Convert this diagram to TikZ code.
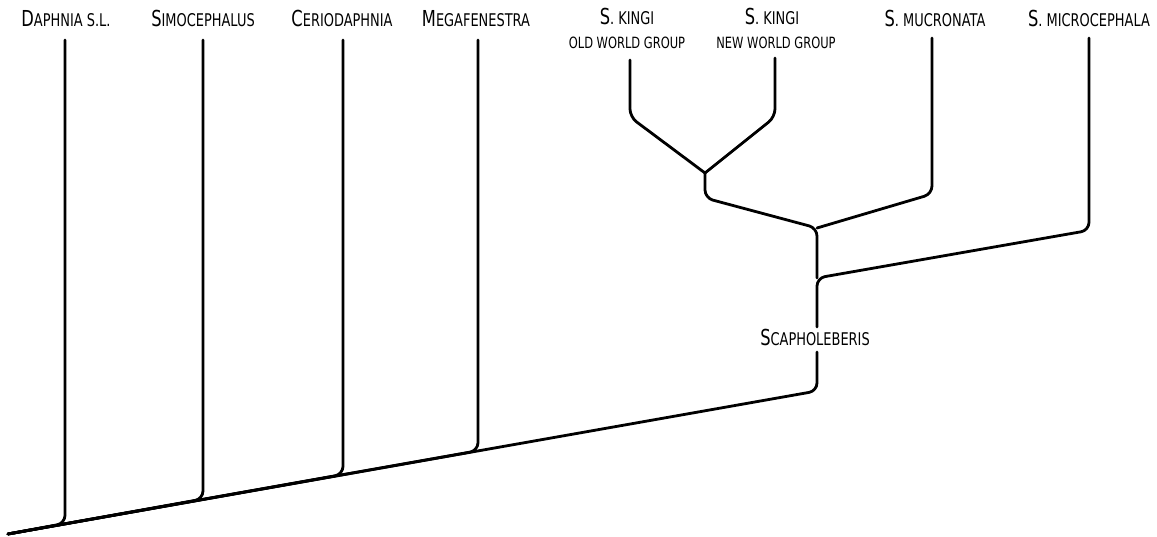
\documentclass[tikz,border=0pt]{standalone}
\usepackage{fontspec}
\setmainfont{DejaVu Sans}[FakeStretch=0.74]
\newcommand\Lc[1]{{\fontsize{22}{22}\selectfont #1}}
\begin{document}
\begin{tikzpicture}[x=1pt,y=-1pt,
  lab/.style={anchor=base,inner sep=0pt,font=\fontsize{17.5}{17.5}\selectfont},
  sublab/.style={anchor=base,inner sep=0pt,font=\fontsize{15.5}{15.5}\selectfont},
  br/.style={line width=2.8pt,rounded corners=8pt,line cap=round,line join=round}]
\useasboundingbox (0,0) rectangle (1157,537);
% labels
\node[lab] (lD) at (66,27) {\Lc{D}APHNIA S.L.};
\node[lab] (lS) at (203,27) {\Lc{S}IMOCEPHALUS};
\node[lab] (lC) at (342,27) {\Lc{C}ERIODAPHNIA};
\node[lab] (lM) at (476,27) {\Lc{M}EGAFENESTRA};
\node[lab] (lKo) at (627,25) {\Lc{S}. KINGI};
\node[sublab] (lKo2) at (627,49) {OLD WORLD GROUP};
\node[lab] (lKn) at (772,25) {\Lc{S}. KINGI};
\node[sublab] (lKn2) at (776,49) {NEW WORLD GROUP};
\node[lab] (lMu) at (935,27) {\Lc{S}. MUCRONATA};
\node[lab] (lMi) at (1089,27) {\Lc{S}. MICROCEPHALA};
\node[lab] (lSc) at (815,345) {\Lc{S}CAPHOLEBERIS};
% tops of branches
\coordinate (tD) at (65,40);
\coordinate (tS) at (203,40);
\coordinate (tC) at (343,40);
\coordinate (tM) at (478,40);
\coordinate (tKo) at (630,60);
\coordinate (tKn) at (775,58);
\coordinate (tMu) at (932,38);
\coordinate (tMi) at (1089,38);
% corners and junctions
\coordinate (root) at (8,534);
\coordinate (cD) at (65,523.4);
\coordinate (cS) at (203,499);
\coordinate (cC) at (343,474.4);
\coordinate (cM) at (478,450.7);
\coordinate (cSc) at (817,391);
\coordinate (scB) at (817,352);
\coordinate (scT) at (817,327);
\coordinate (jMi) at (817,278);
\coordinate (cMi) at (1089,230.4);
\coordinate (jMu) at (817,228);
\coordinate (cMu) at (932,194);
\coordinate (cK) at (705,198);
\coordinate (jK) at (705,173);
\coordinate (cKo) at (630,117);
\coordinate (cKn) at (775,117);
% branches
\draw[br] (scB) -- (cSc) -- (root);
\draw[br] (tD) -- (cD) -- (root);
\draw[br] (tS) -- (cS) -- (root);
\draw[br] (tC) -- (cC) -- (root);
\draw[br] (tM) -- (cM) -- (root);
\draw[br] (tMi) -- (cMi) -- (jMi) -- (scT);
\draw[br] (tMu) -- (cMu) -- (jMu);
\draw[br] (jK) -- (cK) -- (jMu) -- (jMi);
\draw[br] (tKo) -- (cKo) -- (jK);
\draw[br] (tKn) -- (cKn) -- (jK);
\end{tikzpicture}
\end{document}
